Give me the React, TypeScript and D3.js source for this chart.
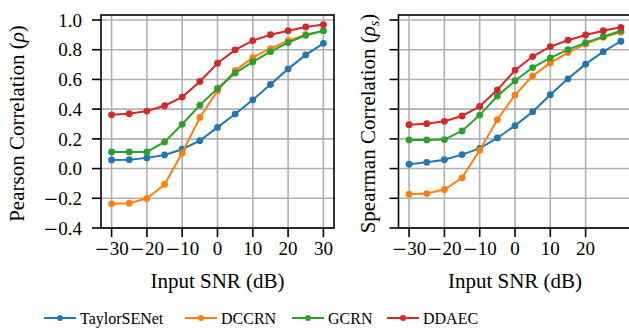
import React from "react";
import * as d3 from "d3";

const snr = [-30, -25, -20, -15, -10, -5, 0, 5, 10, 15, 20, 25, 30];
const models = ["TaylorSENet", "DCCRN", "GCRN", "DDAEC"];
const colors = ["#1f77b4", "#ff7f0e", "#2ca02c", "#d62728"];

const pearsonTaylor = [0.058, 0.06, 0.072, 0.092, 0.13, 0.188, 0.277, 0.367, 0.463, 0.566, 0.671, 0.765, 0.843];
const pearsonDCCRN = [-0.237, -0.233, -0.201, -0.107, 0.105, 0.344, 0.523, 0.66, 0.747, 0.808, 0.861, 0.901, 0.928];
const pearsonGCRN = [0.112, 0.112, 0.112, 0.179, 0.298, 0.427, 0.539, 0.644, 0.718, 0.787, 0.848, 0.897, 0.928];
const pearsonDDAEC = [0.362, 0.369, 0.387, 0.423, 0.481, 0.586, 0.709, 0.799, 0.861, 0.901, 0.928, 0.953, 0.969];

const spearmanTaylor = [0.029, 0.042, 0.06, 0.094, 0.136, 0.206, 0.289, 0.383, 0.497, 0.604, 0.703, 0.787, 0.857];
const spearmanDCCRN = [-0.172, -0.168, -0.141, -0.062, 0.123, 0.329, 0.495, 0.624, 0.711, 0.781, 0.839, 0.884, 0.917];
const spearmanGCRN = [0.193, 0.193, 0.195, 0.253, 0.36, 0.488, 0.591, 0.68, 0.745, 0.801, 0.848, 0.888, 0.928];
const spearmanDDAEC = [0.295, 0.302, 0.318, 0.354, 0.418, 0.53, 0.662, 0.754, 0.821, 0.864, 0.899, 0.928, 0.951];

const yTicks = [-0.4, -0.2, 0.0, 0.2, 0.4, 0.6, 0.8, 1.0];
const xTicksLeft = [-30, -20, -10, 0, 10, 20, 30];
const xTicksRight = [-30, -20, -10, 0, 10, 20];

const pearsonSeries = [pearsonTaylor, pearsonDCCRN, pearsonGCRN, pearsonDDAEC];
const spearmanSeries = [spearmanTaylor, spearmanDCCRN, spearmanGCRN, spearmanDDAEC];

const W = 629;
const H = 331;
const FONT = "Liberation Serif, serif";
const TOP = 15;
const BOTTOM = 228;

const y = d3.scaleLinear().domain([-0.4, 1.0337]).range([BOTTOM, TOP]);

function TickLabel({ v, x, y: yy, anchor }: { v: number; x: number; y: number; anchor: string }) {
  const neg = v < 0;
  const abs = Math.abs(v);
  return (
    <text x={x} y={yy} textAnchor={anchor} fontFamily={FONT} fontSize={19} fill="#000">
      {neg ? <tspan fontFamily="DejaVu Serif" fontSize={18}>{"\u2212"}</tspan> : null}
      <tspan>{abs}</tspan>
    </text>
  );
}

function fmtY(v: number) {
  return Math.abs(v).toFixed(1);
}

function Panel({
  left,
  right,
  series,
  xTicks,
  showYLabels,
  yLabelX,
  yLabel,
}: {
  left: number;
  right: number;
  series: number[][];
  xTicks: number[];
  showYLabels: boolean;
  yLabelX: number;
  yLabel: React.ReactNode;
}) {
  const x = d3.scaleLinear().domain([-33, 33]).range([left, right]);
  const line = d3
    .line<number>()
    .x((_, i) => x(snr[i]))
    .y((d) => y(d));
  const midX = (left + right) / 2;
  const midY = (TOP + BOTTOM) / 2;
  return (
    <g>
      {xTicks.map((t) => (
        <line key={"gx" + t} x1={x(t)} x2={x(t)} y1={TOP} y2={BOTTOM} stroke="#b0b0b0" strokeWidth={1.6} />
      ))}
      {yTicks.map((t) => (
        <line key={"gy" + t} x1={left} x2={right} y1={y(t)} y2={y(t)} stroke="#b0b0b0" strokeWidth={1.6} />
      ))}
      {series.map((s, k) => (
        <g key={"s" + k}>
          <path d={line(s) || ""} fill="none" stroke={colors[k]} strokeWidth={2} />
          {s.map((v, i) => (
            <circle key={i} cx={x(snr[i])} cy={y(v)} r={3.4} fill={colors[k]} />
          ))}
        </g>
      ))}
      <rect x={left} y={TOP} width={right - left} height={BOTTOM - TOP} fill="none" stroke="#000" strokeWidth={1.6} />
      {yTicks.map((t) => (
        <g key={"yt" + t}>
          <line x1={left - 9} x2={left} y1={y(t)} y2={y(t)} stroke="#000" strokeWidth={1.6} />
          {showYLabels ? (
            <text x={left - 19} y={y(t)} dy="0.35em" textAnchor="end" fontFamily={FONT} fontSize={19}>
              {t < 0 ? <tspan fontFamily="DejaVu Serif" fontSize={18}>{"\u2212"}</tspan> : null}
              <tspan>{fmtY(t)}</tspan>
            </text>
          ) : null}
        </g>
      ))}
      {xTicks.map((t) => (
        <g key={"xt" + t}>
          <line x1={x(t)} x2={x(t)} y1={BOTTOM} y2={BOTTOM + 9} stroke="#000" strokeWidth={1.6} />
          <TickLabel v={t} x={x(t)} y={255} anchor="middle" />
        </g>
      ))}
      <text x={midX} y={288} textAnchor="middle" fontFamily={FONT} fontSize={21}>
        Input SNR (dB)
      </text>
      <text
        transform={`translate(${yLabelX},${midY + 2}) rotate(-90)`}
        textAnchor="middle"
        dy="0.35em"
        fontFamily={FONT}
        fontSize={21}
      >
        {yLabel}
      </text>
    </g>
  );
}

export default function App() {
  const legendX = [44, 185, 292, 387];
  const legendY = 318;
  return (
    <svg
      width={W}
      height={H}
      viewBox={`0 0 ${W} ${H}`}
      style={{ position: "absolute", left: 0, top: 0, display: "block", background: "#fff" }}
    >
      <rect x={0} y={0} width={W} height={H} fill="#fff" />
      <Panel
        left={101}
        right={334}
        series={pearsonSeries}
        xTicks={xTicksLeft}
        showYLabels={true}
        yLabelX={17}
        yLabel={
          <>
            Pearson Correlation (<tspan fontStyle="italic">ρ</tspan>)
          </>
        }
      />
      <Panel
        left={398.5}
        right={631.5}
        series={spearmanSeries}
        xTicks={xTicksRight}
        showYLabels={false}
        yLabelX={368}
        yLabel={
          <>
            Spearman Correlation (<tspan fontStyle="italic">ρ</tspan>
            <tspan fontStyle="italic" fontSize={14} dy={4}>s</tspan>
            <tspan dy={-4}>)</tspan>
          </>
        }
      />
      {models.map((m, k) => (
        <g key={m}>
          <line x1={legendX[k]} x2={legendX[k] + 32} y1={legendY} y2={legendY} stroke={colors[k]} strokeWidth={2} />
          <circle cx={legendX[k] + 16} cy={legendY} r={3} fill={colors[k]} />
          <text x={legendX[k] + 36} y={legendY} dy="0.35em" fontFamily={FONT} fontSize={16}>
            {m}
          </text>
        </g>
      ))}
    </svg>
  );
}
